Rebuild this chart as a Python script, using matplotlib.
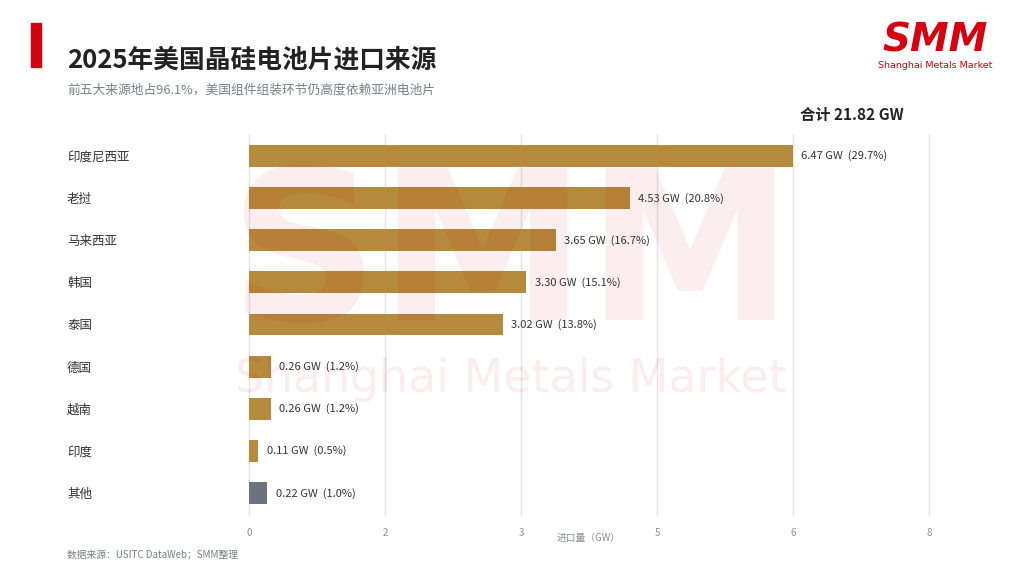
import numpy as np
import matplotlib
matplotlib.use("Agg")
import matplotlib.pyplot as plt

plt.rcParams['font.family'] = ['Noto Sans CJK SC', 'DejaVu Sans']

# --------- data ---------
countries = ['印度尼西亚', '老挝', '马来西亚', '韩国', '泰国', '德国', '越南', '印度', '其他']
volumes = [6.47, 4.53, 3.65, 3.30, 3.02, 0.26, 0.26, 0.11, 0.22]
shares = [29.7, 20.8, 16.7, 15.1, 13.8, 1.2, 1.2, 0.5, 1.0]
total_gw = 21.82

gold = '#B58A3C'
grey = '#6B7280'
red = '#D7000F'
colors = [gold] * (len(countries) - 1) + [grey]

fig = plt.figure(figsize=(10.24, 5.76), dpi=100)
ax = fig.add_axes([249 / 1024, 1 - 515 / 576, (929 - 249) / 1024, (515 - 134) / 576])

y = np.arange(len(countries))
ax.barh(y, volumes, height=0.52, color=colors, zorder=2)

xmax = max(volumes) * 1.25
ax.set_xlim(0, xmax)
ax.set_ylim(len(countries) - 0.48, -0.52)

ticks = np.linspace(0, xmax, 6)
ax.set_xticks(ticks)
ax.set_xticklabels(['{:.0f}'.format(t) for t in ticks], fontsize=7, color='#8A8F98')
ax.grid(axis='x', color='#E3E4EA', linewidth=1, zorder=0)
for gl in ax.get_xgridlines():
    gl.set_clip_on(False)
ax.tick_params(axis='x', length=0, pad=9)

ax.set_yticks(y)
ax.set_yticklabels(countries, fontsize=9, color='#333333')
for lab in ax.get_yticklabels():
    lab.set_ha('left')
ax.tick_params(axis='y', length=0, pad=131)

for s in ax.spines.values():
    s.set_visible(False)

# value labels
for yi, v, p in zip(y, volumes, shares):
    ax.text(v + 0.1, yi, '{:.2f} GW  ({:.1f}%)'.format(v, p), va='center', ha='left',
            fontsize=8, color='#333333', zorder=4)

ax.set_xlabel('进口量（GW）', fontsize=7, color='#8A8F98', labelpad=-3)

# watermark
fig.text(511 / 1024, 1 - 262 / 576, 'SMM', fontsize=150, fontweight='bold',
         color=red, alpha=0.07, ha='center', va='center', family='DejaVu Sans', zorder=5)
fig.text(511 / 1024, 1 - 380 / 576, 'Shanghai Metals Market', fontsize=33,
         color=red, alpha=0.07, ha='center', va='center', family='DejaVu Sans', zorder=5)

# header
fig.patches.append(plt.Rectangle((31 / 1024, 1 - 67 / 576), 10 / 1024, 44 / 576,
                                 transform=fig.transFigure, color=red))
fig.text(67 / 1024, 1 - 60 / 576, '2025年美国晶硅电池片进口来源', fontsize=18.5,
         fontweight='bold', color='#222222', ha='left', va='center')
fig.text(67 / 1024, 1 - 90 / 576, '前五大来源地占96.1%，美国组件组装环节仍高度依赖亚洲电池片',
         fontsize=9.2, color='#7A7F88', ha='left', va='center')

# logo
fig.text(935 / 1024, 1 - 41 / 576, 'SMM', fontsize=28, fontweight='heavy', style='italic',
         color=red, ha='center', va='center', family='DejaVu Sans')
fig.text(935 / 1024, 1 - 66 / 576, 'Shanghai Metals Market', fontsize=6.8,
         color=red, ha='center', va='center', family='DejaVu Sans')

fig.text(800 / 1024, 1 - 115 / 576, '合计 {:.2f} GW'.format(total_gw), fontsize=11,
         fontweight='bold', color='#222222', ha='left', va='center')

fig.text(67 / 1024, 1 - 554 / 576, '数据来源：USITC DataWeb；SMM整理', fontsize=7,
         color='#7A7F88', ha='left', va='center')

fig.savefig('out.png', dpi=100)
